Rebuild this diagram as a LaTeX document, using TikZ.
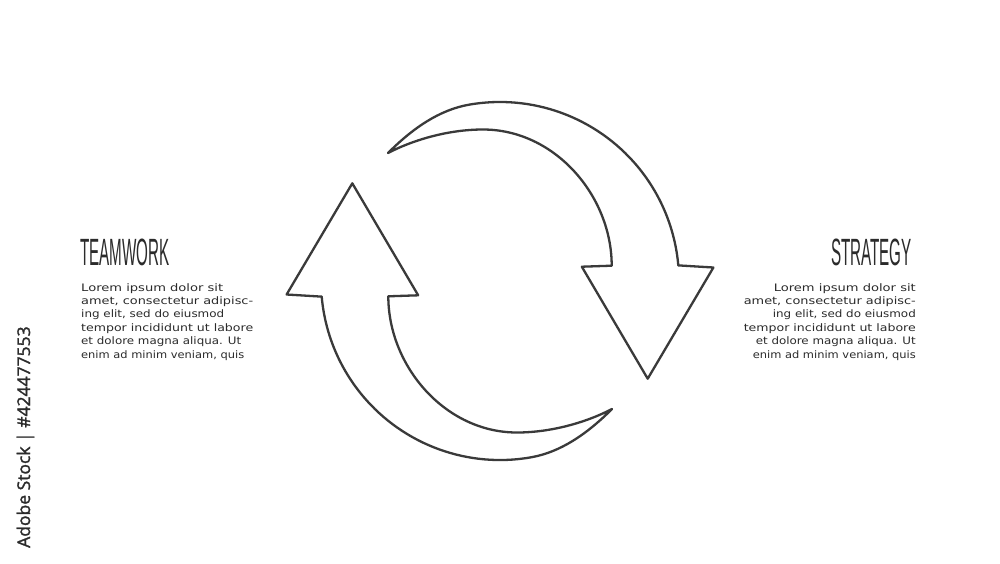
\documentclass[tikz,border=0pt]{standalone}
\usepackage{graphicx}
\usepackage{fontspec}
\setmainfont{DejaVu Sans}
\newfontfamily\titlefont[FakeStretch=0.4]{Liberation Sans}
\newfontfamily\bodyfont{DejaVu Sans}
\newfontfamily\wmfont[FakeBold=1.5]{Open Sans}
\definecolor{ink}{HTML}{2B2B2B}
\definecolor{lineink}{HTML}{3A3A3A}
\tikzset{
  cyclearrow/.style={draw=lineink, line width=2.3pt, line join=round, fill=white},
  titletext/.style={inner sep=0pt, text=ink, font=\titlefont\fontsize{38}{40}\selectfont},
  bodytext/.style={inner sep=0pt, text=ink, font=\bodyfont\fontsize{10.3}{13.4}\selectfont},
  marktext/.style={inner sep=0pt, text=ink, font=\wmfont\fontsize{17.5}{20}\selectfont}
}
\newcommand\cyclearrowpath{%
  (-112,128) .. controls (-87,153) and (-60.6,171.1) .. (-31.1,176.3)
  arc[start angle=100, end angle=5, radius=179]
  -- (213.4,13.5) -- (147.7,-97.7) -- (81.8,14.3) -- (111.7,15.3)
  .. controls (111.7,85) and (55,151.5) .. (-17,151.5)
  .. controls (-50,151.5) and (-85,142) .. (-112,128) -- cycle}
\begin{document}
\begin{tikzpicture}[x=1pt,y=1pt]
\fill[white] (0,0) rectangle (1000,-563);
\useasboundingbox (0,0) rectangle (1000,-563);
% cycle arrows
\begin{scope}[shift={(500,-281)}]
  \draw[cyclearrow] \cyclearrowpath;
\end{scope}
\begin{scope}[shift={(500,-281)},rotate=180]
  \draw[cyclearrow] \cyclearrowpath;
\end{scope}
% titles
\node[titletext, anchor=base west] (teamwork) at (80,-265) {TEAMWORK};
\node[titletext, anchor=base east] (strategy) at (912,-265) {STRATEGY};
% body texts
\foreach \t/\w [count=\i] in {{Lorem ipsum dolor sit}/142,{amet, consectetur adipisc-}/172,{ing elit, sed do eiusmod}/143,{tempor incididunt ut labore}/172,{et dolore magna aliqua. Ut}/160,{enim ad minim veniam, quis}/163}{
  \node[bodytext, anchor=base west] (left\i) at (81,{-291-13.4*(\i-1)}) {\resizebox{\w pt}{\height}{\t}};
  \node[bodytext, anchor=base east] (right\i) at (916,{-291-13.4*(\i-1)}) {\resizebox{\w pt}{\height}{\t}};
}
% vertical mark
\node[marktext, rotate=90, anchor=base west] (mark) at (30,-548) {Adobe Stock | \#424477553};
\end{tikzpicture}
\end{document}
